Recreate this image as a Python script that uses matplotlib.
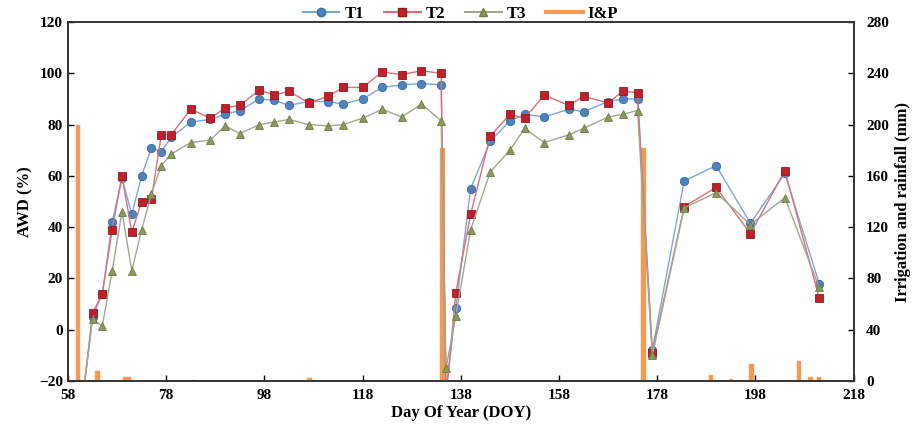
import matplotlib
matplotlib.use("Agg")
import matplotlib.pyplot as plt
from matplotlib.lines import Line2D

# ---------------- data ----------------
doy = [61, 63, 65, 67, 69, 71, 73, 75, 77, 79, 83, 87, 90, 93, 97, 100,
       103, 107, 111, 114, 118, 122, 126, 130, 134, 135, 137, 140, 144,
       148, 151, 155, 160, 163, 168, 171, 174, 177, 183.5, 190, 197, 204, 211]

t1 = [-26, 5, 14, 42, 59, 45, 60, 71, 69.5, 75, 81, 82, 84, 85.5, 90, 89.5,
      87.5, 89, 89, 88, 90, 94.5, 95.5, 96, 95.5, -24, 8.5, 55, 73.5,
      81.5, 84, 83, 86, 85, 89, 90, 90, -8, 58, 64, 41.5, 61, 18]

t2 = [-28, 6.5, 14, 39, 60, 38, 50, 51, 76, 76, 86, 82.5, 86.5, 87.5, 93.5, 91.5,
      93, 88.5, 91, 94.5, 94.5, 100.5, 99.5, 101, 100, -26, 14.5, 45, 75.5,
      84, 82.5, 91.5, 87.5, 91, 88.5, 93, 92.5, -9, 48, 55.5, 37.5, 62, 12.5]

t3 = [-27, 4, 1.5, 23, 46, 23, 39, 53, 64, 68.5, 73, 74, 79.5, 76.5, 80, 81,
      82, 80, 79.5, 80, 82.5, 86, 83, 88, 81.5, -15, 5.5, 39, 61.5,
      70, 78.5, 73, 76, 78.5, 83, 84, 85.5, -10, 47.5, 53.5, 41, 51.5, 16.5]

ip_doy = [60, 64, 69.6, 70.4, 83.5, 107.2, 134.3, 175.2, 189, 193, 197.2, 206.9, 209.2, 211]
ip_mm = [200, 8, 3, 3, 1, 2, 182, 182, 5, 1.5, 13, 16, 3, 3]

xticks = [58, 78, 98, 118, 138, 158, 178, 198, 218]

# ---------------- plot ----------------
plt.rcParams['font.family'] = ['Liberation Serif', 'DejaVu Serif']
plt.rcParams['font.weight'] = 'bold'

fig = plt.figure(figsize=(9.21, 4.41), dpi=100)
ax = fig.add_axes([0.0738, 0.136, 0.853, 0.814])
ax2 = ax.twinx()
ax.set_zorder(ax2.get_zorder() + 1)
ax.patch.set_visible(False)

# I&P bars on the right axis
ax2.bar(ip_doy, ip_mm, width=0.9, color='#F59A50', edgecolor='#F0A060', linewidth=0.3)
ax2.set_ylim(0, 280)
ax2.set_yticks(range(0, 281, 40))

ax.plot(doy, t1, color='#7DA7D9', lw=1.0, marker='o', ms=6,
        mfc='#4F81BD', mec='#3A6AA0', mew=0.6)
ax.plot(doy, t2, color='#D9707A', lw=1.0, marker='s', ms=6,
        mfc='#C0202A', mec='#8E1A20', mew=0.6)
ax.plot(doy, t3, color='#A0A890', lw=1.0, marker='^', ms=6,
        mfc='#8A9A5B', mec='#6B7A45', mew=0.6)

ax.set_xlim(58, 218)
ax.set_ylim(-20, 120)
ax.set_xticks(xticks)
ax.set_yticks(range(-20, 121, 20))

for a in (ax, ax2):
    a.tick_params(direction='in', length=4, width=1, labelsize=11)
    for s in a.spines.values():
        s.set_linewidth(1.2)
        s.set_color('#333333')
ax.tick_params(axis='x', pad=6)
ax2.tick_params(axis='y', pad=9)

ax.set_xlabel('Day Of Year (DOY)', fontsize=12, fontweight='bold', labelpad=2)
ax.set_ylabel('AWD (%)', fontsize=12, fontweight='bold', labelpad=4)
ax2.set_ylabel('Irrigation and rainfall (mm)', fontsize=12, fontweight='bold', labelpad=4)

handles = [
    Line2D([], [], color='#7DA7D9', marker='o', ms=6, mfc='#4F81BD', mec='#3A6AA0'),
    Line2D([], [], color='#D9707A', marker='s', ms=6, mfc='#C0202A', mec='#8E1A20'),
    Line2D([], [], color='#A0A890', marker='^', ms=6, mfc='#8A9A5B', mec='#6B7A45'),
    Line2D([], [], color='#F59A50', lw=3),
]
fig.legend(handles, ['T1', 'T2', 'T3', 'I&P'], loc='upper center',
           bbox_to_anchor=(0.5, 1.02), ncol=4, frameon=False,
           fontsize=12, handlelength=2.2, columnspacing=1.2, handletextpad=0.3)

fig.savefig('out.png', dpi=100)
